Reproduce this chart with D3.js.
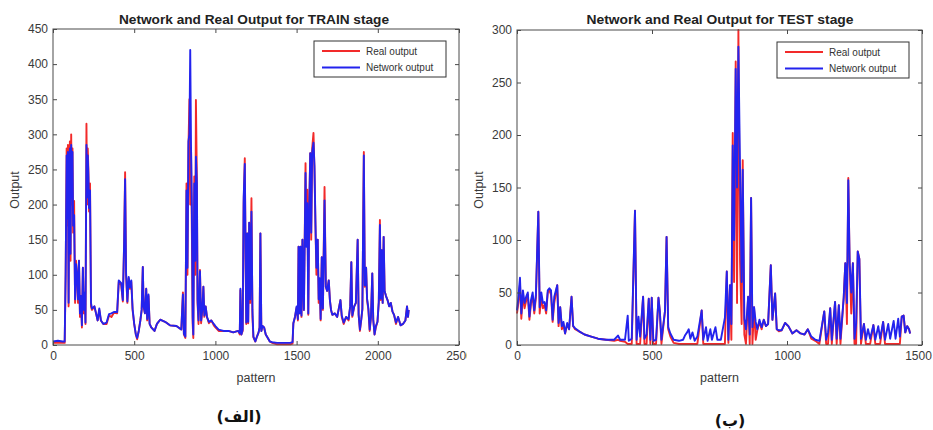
<!DOCTYPE html>
<html><head><meta charset="utf-8">
<script src="https://cdn.jsdelivr.net/npm/d3@7/dist/d3.min.js"></script>
<style>
html,body{margin:0;padding:0;background:#fff;}
svg{display:block;}
text{font-family:"Liberation Sans",Arial,sans-serif;}
</style></head>
<body>
<svg id="chart" width="933" height="430"></svg>
<script>
// ---------- DATA ----------
const trainPattern = [0,30,60,72,78,84,88,92,96,100,104,108,112,116,120,124,130,136,142,148,154,160,166,172,178,184,190,196,200,206,210,214,218,222,228,234,240,255,265,275,285,295,310,330,345,360,375,395,405,420,430,438,444,450,458,466,474,482,490,500,510,518,528,538,546,553,558,566,574,580,588,595,605,625,640,660,690,720,760,790,800,806,815,822,828,834,840,845,850,855,860,864,870,876,880,886,890,896,905,912,920,926,932,940,948,960,975,990,1000,1020,1050,1080,1110,1140,1150,1154,1160,1168,1174,1181,1186,1190,1196,1202,1208,1214,1222,1228,1234,1246,1256,1266,1272,1277,1283,1290,1300,1310,1320,1335,1350,1380,1420,1460,1475,1480,1490,1500,1508,1512,1518,1524,1530,1536,1545,1555,1560,1566,1572,1578,1584,1590,1596,1604,1610,1616,1622,1630,1636,1642,1648,1655,1662,1672,1680,1688,1698,1705,1712,1720,1735,1750,1770,1778,1790,1805,1820,1830,1837,1843,1855,1865,1876,1882,1890,1898,1905,1914,1920,1928,1934,1942,1950,1958,1966,1972,1980,1988,1998,2006,2013,2018,2024,2030,2036,2042,2050,2060,2070,2080,2090,2100,2112,2125,2140,2155,2170,2180,2186,2190];
const trainReal = [3,3,3,3,100,280,170,285,55,240,290,120,300,200,280,160,205,60,120,100,60,120,40,70,25,110,45,75,30,315,200,280,250,190,230,55,50,55,45,35,50,35,30,30,42,40,46,45,90,85,62,145,246,100,60,95,80,90,50,30,15,8,20,35,50,111,55,45,80,35,70,30,25,20,30,36,33,28,27,22,75,15,10,230,100,280,350,200,280,160,30,10,240,100,349,235,60,30,107,31,50,83,40,55,40,31,35,28,25,20,20,20,18,20,15,78,15,20,200,266,120,30,159,31,174,60,209,40,11,5,12,18,25,159,20,27,25,15,11,5,3,1,1,1,2,31,40,53,35,140,45,140,40,150,50,259,150,221,43,200,273,150,280,302,250,170,100,150,60,90,35,125,50,225,83,77,92,64,50,43,45,40,64,40,30,40,35,55,118,40,55,60,150,43,20,36,50,275,83,110,64,50,20,40,102,36,15,25,33,60,178,64,135,60,154,77,70,64,55,60,48,43,30,40,28,30,35,55,40,50];
const trainNet = [5,6,5,5,105,270,180,275,60,230,280,130,285,210,275,170,185,65,115,100,65,120,45,70,28,110,50,75,32,285,210,270,240,195,220,60,52,55,45,35,52,35,30,32,44,45,47,47,92,88,64,145,236,102,62,97,82,92,52,30,15,10,20,35,50,111,55,45,80,37,72,30,25,20,30,36,33,28,27,22,72,16,12,220,110,290,300,420,280,200,40,15,230,120,268,230,65,35,105,35,52,83,42,55,40,33,35,30,27,22,20,20,18,20,17,80,15,22,210,258,130,32,159,33,174,65,190,50,12,5,12,18,25,159,20,27,25,15,11,5,4,3,3,3,4,31,40,55,37,140,45,140,42,150,50,245,140,202,45,190,273,160,275,288,255,175,110,150,65,95,37,125,52,206,83,77,92,64,50,43,45,40,64,42,32,40,37,55,118,42,55,60,150,43,22,36,52,270,85,110,66,52,22,40,102,36,15,27,33,62,171,66,135,60,154,77,70,64,55,60,48,43,32,40,28,30,35,55,40,50];

const testPattern = [0,5,11,16,22,28,34,40,46,52,58,64,70,79,84,90,96,102,108,114,120,126,132,138,149,154,160,166,172,178,186,193,202,208,215,230,250,275,300,330,360,374,382,400,410,414,425,437,443,450,456,467,472,480,488,494,499,505,515,524,529,535,548,554,560,568,580,600,615,622,630,636,642,650,658,668,684,690,700,706,716,722,735,742,755,770,777,783,789,794,799,804,810,815,820,826,832,836,842,848,856,862,867,872,878,884,890,898,906,914,922,930,940,946,956,962,970,980,993,1005,1020,1035,1050,1065,1077,1090,1105,1120,1138,1145,1152,1160,1166,1178,1184,1192,1198,1210,1216,1222,1227,1232,1238,1244,1250,1256,1262,1268,1274,1285,1292,1300,1308,1320,1327,1338,1345,1356,1363,1375,1382,1395,1402,1412,1418,1425,1432,1438,1445,1452,1456];
const testReal = [30,40,58,25,48,35,42,48,24,40,46,30,45,127,30,45,35,38,30,50,52,48,22,40,57,18,36,15,20,11,20,15,46,18,15,13,10,8,6,5,4,5,4,3,1,1,1,128,1,1,1,46,1,1,44,1,45,1,1,45,32,1,32,103,15,8,2,1,1,1,1,1,1,1,1,1,33,1,1,1,1,1,1,1,1,1,70,2,57,5,202,60,270,40,300,80,20,176,10,1,46,1,140,1,36,5,14,22,15,24,18,20,76,24,49,15,13,14,21,18,11,14,11,10,15,6,4,1,32,1,1,35,1,41,1,38,1,45,78,20,159,78,30,78,1,1,89,82,1,20,1,1,1,19,1,1,1,22,1,1,1,1,1,1,1,27,28,12,18,15,11];
const testNet = [33,45,64,30,52,40,46,50,27,43,50,33,48,127,36,50,40,41,33,52,54,52,24,46,57,21,36,18,22,11,21,15,46,18,16,13,10,8,6,5,5,9,5,5,28,4,6,128,5,27,8,46,6,10,44,5,45,4,5,45,32,5,32,103,17,11,5,4,5,9,12,15,6,12,4,8,33,5,17,4,15,5,17,5,5,26,70,5,57,20,190,100,263,150,284,170,60,167,25,15,46,10,140,17,36,22,15,24,17,24,18,20,76,24,49,15,14,14,21,18,11,14,11,10,15,8,5,4,32,5,12,35,5,41,6,38,6,45,78,40,157,78,50,78,6,20,89,82,6,20,5,15,6,19,5,18,6,22,5,20,6,23,6,25,8,27,28,12,18,15,11];

const trainXTicks = [0,500,1000,1500,2000,2500];
const trainYTicks = [0,50,100,150,200,250,300,350,400,450];
const testXTicks = [0,500,1000,1500];
const testYTicks = [0,50,100,150,200,250,300];

const titles = ["Network and Real Output for TRAIN stage","Network and Real Output for TEST stage"];
const legendLabels = ["Real output","Network output"];
const captions = ["(الف)","(ب)"];
const xLabel = "pattern", yLabel = "Output";

// ---------- DRAW ----------
const svg = d3.select("#chart");
const REAL = "#f22a2a", NET = "#2323ee", FRAME = "#4a4a4a", TXT = "#3a3a3a";

svg.append("defs").append("clipPath").attr("id","leftClip")
  .append("rect").attr("x",0).attr("y",0).attr("width",467).attr("height",430);

function panel(opt){
  const g = svg.append("g");
  if(opt.clip) g.attr("clip-path","url(#leftClip)");
  const x = d3.scaleLinear().domain(opt.xDomain).range([opt.x0,opt.x1]);
  const y = d3.scaleLinear().domain(opt.yDomain).range([opt.y1,opt.y0]);

  // lines
  const pc = g.append("g");
  const mk = vals => d3.line().x((d,i)=>x(opt.pattern[i])).y((d)=>y(d))(vals);
  pc.append("path").attr("d",mk(opt.real)).attr("fill","none").attr("stroke",REAL)
    .attr("stroke-width",1.9).attr("stroke-linejoin","round");
  pc.append("path").attr("d",mk(opt.net)).attr("fill","none").attr("stroke",NET)
    .attr("stroke-width",1.9).attr("stroke-linejoin","round");

  // axes
  const fs = "12px";
  const ax = (gen, tr) => {
    const a = g.append("g").attr("transform",tr).call(gen);
    a.select(".domain").remove();
    a.selectAll("line").attr("stroke",FRAME);
    a.selectAll("text").attr("fill",TXT).style("font-size",fs);
    return a;
  };
  const bx = ax(d3.axisBottom(x).tickValues(opt.xTicks).tickSize(-4).tickPadding(6).tickFormat(d3.format("d")), `translate(0,${opt.y1})`);
  if(opt.lastShift) bx.selectAll(".tick text").filter((d,i,n)=>i===n.length-1).attr("dx",opt.lastShift);
  ax(d3.axisTop(x).tickValues(opt.xTicks).tickSize(-4).tickFormat(""), `translate(0,${opt.y0})`);
  ax(d3.axisLeft(y).tickValues(opt.yTicks).tickSize(-4).tickPadding(5).tickFormat(d3.format("d")), `translate(${opt.x0},0)`);
  ax(d3.axisRight(y).tickValues(opt.yTicks).tickSize(-4).tickFormat(""), `translate(${opt.x1},0)`);

  g.append("rect").attr("x",opt.x0).attr("y",opt.y0).attr("width",opt.x1-opt.x0).attr("height",opt.y1-opt.y0)
    .attr("fill","none").attr("stroke",FRAME).attr("stroke-width",1);

  // title
  g.append("text").attr("x",opt.titleX).attr("y",24).attr("text-anchor","middle")
    .attr("font-weight","bold").style("font-size","12.5px").attr("fill","#222")
    .attr("textLength",opt.titleW).attr("lengthAdjust","spacingAndGlyphs").text(opt.title);

  // axis labels
  g.append("text").attr("x",(opt.x0+opt.x1)/2).attr("y",382).attr("text-anchor","middle")
    .style("font-size","12.5px").attr("fill",TXT).text(xLabel);
  g.append("text").attr("transform",`translate(${opt.x0-34},190) rotate(-90)`).attr("text-anchor","middle")
    .style("font-size","12.5px").attr("fill",TXT).text(yLabel);

  // legend
  const L = g.append("g");
  L.append("rect").attr("x",opt.lx).attr("y",opt.ly).attr("width",132).attr("height",36)
    .attr("fill","#fff").attr("stroke","#333").attr("stroke-width",1);
  [REAL,NET].forEach((c,i)=>{
    const yy = opt.ly + 10 + i*16.5;
    L.append("line").attr("x1",opt.lx+8).attr("x2",opt.lx+46).attr("y1",yy).attr("y2",yy)
      .attr("stroke",c).attr("stroke-width",2);
    L.append("text").attr("x",opt.lx+52).attr("y",yy+3.5).style("font-size","10px")
      .attr("fill","#333").text(legendLabels[i]);
  });

  // caption
  svg.append("text").attr("x",opt.capX).attr("y",opt.capY).attr("text-anchor","middle")
    .attr("font-weight","bold").style("font-size","16px")
    .style("font-family","'DejaVu Sans','Liberation Serif',serif").attr("fill","#111")
    .text(opt.caption);
}

panel({pattern:trainPattern, real:trainReal, net:trainNet, xDomain:[0,2500], yDomain:[0,450],
  xTicks:trainXTicks, yTicks:trainYTicks, x0:53, x1:459, y0:29, y1:345,
  title:titles[0], titleX:254, titleW:270, lx:314, ly:41, caption:captions[0], capX:239, capY:422, clip:true});
panel({pattern:testPattern, real:testReal, net:testNet, xDomain:[0,1500], yDomain:[0,300],
  xTicks:testXTicks, yTicks:testYTicks, x0:517, x1:922, y0:30, y1:345,
  title:titles[1], titleX:720, titleW:267, lx:777, ly:42, caption:captions[1], capX:730, capY:426, clip:false, lastShift:-4});
</script>
</body></html>
